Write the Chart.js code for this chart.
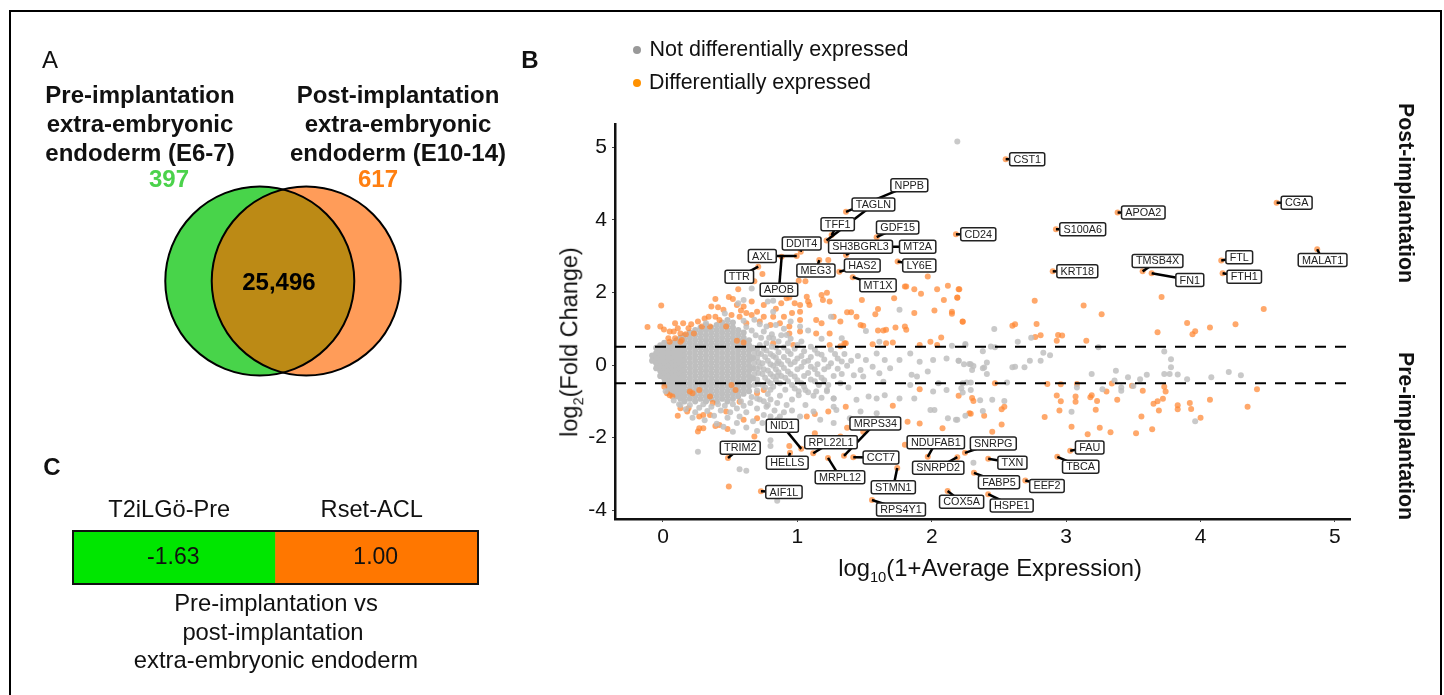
<!DOCTYPE html>
<html>
<head>
<meta charset="utf-8">
<title>Extra-embryonic endoderm</title>
<script src="https://cdn.jsdelivr.net/npm/chart.js@4"></script>
<style>
  html, body { margin: 0; padding: 0; background: #fff; }
  body { width: 1444px; height: 695px; position: relative; overflow: hidden; font-family: "Liberation Sans", Arial, sans-serif; color: #111; }
  #frame { position: absolute; left: 9px; top: 10px; width: 1429px; height: 700px; border: 2px solid #000; border-bottom: 0; }
  canvas { position: absolute; }
  .t { position: absolute; transform: translate(-50%, -50%); white-space: nowrap; line-height: 1; }
  .b { font-weight: bold; }
  .dot { position: absolute; width: 8px; height: 8px; border-radius: 50%; transform: translate(-50%, -50%); }
  sub { font-size: 62%; line-height: 0; }
</style>
</head>
<body>
<div id="frame"></div>
<div style="position:absolute;left:0;top:0;width:1444px;height:695px">
  <canvas id="venn" width="270" height="220" style="left:148px;top:171px"></canvas>
  <canvas id="heat" width="470" height="110" style="left:40px;top:490px"></canvas>
  <canvas id="ma" width="1444" height="695" style="left:0;top:0"></canvas>
</div>

<div class="t" style="left:50px;top:60px;font-size:24px">A</div>
<div class="t b" style="left:140px;top:95px;font-size:24px">Pre-implantation</div>
<div class="t b" style="left:140px;top:124px;font-size:24px">extra-embryonic</div>
<div class="t b" style="left:140px;top:153px;font-size:24px">endoderm (E6-7)</div>
<div class="t b" style="left:398px;top:95px;font-size:24px">Post-implantation</div>
<div class="t b" style="left:398px;top:124px;font-size:24px">extra-embryonic</div>
<div class="t b" style="left:398px;top:153px;font-size:24px">endoderm (E10-14)</div>
<div class="t b" style="left:169px;top:179px;font-size:24px;color:#4bd24b">397</div>
<div class="t b" style="left:378px;top:179px;font-size:24px;color:#ff7f11">617</div>

<div class="t b" style="left:52px;top:467px;font-size:24px">C</div>
<div class="t" style="left:276px;top:603px;font-size:23.8px">Pre-implantation vs</div>
<div class="t" style="left:273px;top:632px;font-size:23.8px">post-implantation</div>
<div class="t" style="left:276px;top:660px;font-size:23.8px">extra-embryonic endoderm</div>

<div class="t b" style="left:530px;top:60px;font-size:24px">B</div>
<div class="dot" style="left:637px;top:50px;background:#999"></div>
<div class="dot" style="left:637px;top:83px;background:#ff9100"></div>
<div class="t" style="left:779px;top:50px;font-size:21.5px">Not differentially expressed</div>
<div class="t" style="left:760px;top:83px;font-size:21.4px">Differentially expressed</div>
<div class="t" style="left:990px;top:568px;font-size:23.8px">log<sub>10</sub>(1+Average Expression)</div>
<div class="t" style="left:570px;top:342px;font-size:23.5px;transform:translate(-50%,-50%) rotate(-90deg)">log<sub>2</sub>(Fold Change)</div>
<div class="t b" style="left:1405px;top:193px;font-size:21.3px;transform:translate(-50%,-50%) rotate(90deg)">Post-implantation</div>
<div class="t b" style="left:1405px;top:436px;font-size:21.3px;transform:translate(-50%,-50%) rotate(90deg)">Pre-implantation</div>

<script>
// panel A
const vennCentreX = [-0.172, 0.172];
const vennCentreY = [0, 0];
const vennShared = '25,496';

// panel C
const heatCategories = ['T2iLGö-Pre', 'Rset-ACL'];
const heatValues = [-1.63, 1.00];

// panel B axes
const xTickValues = [0, 1, 2, 3, 4, 5];
const yTickValues = [-4, -2, 0, 2, 4, 6];
const yTickLabels = ['-4', '-2', '0', '2', '4', '5']; // top tick reads 5 in the figure
const cutoffs = [0.5, -0.5];

// labelled genes
const geneNames = ['NPPB','TAGLN','TFF1','GDF15','SH3BGRL3','MT2A','LY6E','HAS2','MT1X','MEG3','DDIT4','AXL','APOB','TTR','CD24','CST1','APOA2','S100A6','KRT18','TMSB4X','FN1','FTL','FTH1','CGA','MALAT1','NID1','MRPS34','RPL22L1','HELLS','TRIM2','AIF1L','MRPL12','CCT7','STMN1','RPS4Y1','COX5A','NDUFAB1','SNRPD2','SNRPG','TXN','FABP5','EEF2','HSPE1','FAU','TBCA'];
const geneX = [1.362,1.217,1.255,1.59,1.362,1.639,1.746,1.312,1.412,1.163,1.025,0.995,0.883,0.709,2.18,2.55,3.383,2.924,2.9,3.569,3.636,4.154,4.164,4.566,4.868,1.029,1.347,1.118,0.945,0.484,0.729,1.228,1.416,1.743,1.555,2.118,1.97,2.19,2.247,2.42,2.314,2.696,2.42,3.03,2.934];
const geneY = [4.22,3.43,3.58,3.52,3.03,3.26,2.85,2.57,2.42,2.89,3.12,3.0,2.98,2.71,3.6,5.67,4.2,3.74,2.58,2.58,2.53,2.88,2.53,4.47,3.19,-2.31,-2.5,-2.43,-2.42,-2.56,-3.48,-2.56,-2.54,-2.84,-3.72,-3.47,-2.53,-2.54,-2.42,-2.58,-2.97,-3.18,-3.56,-2.36,-2.53];
// where ggrepel put each label box, in data units
const labelX = [1.833,1.566,1.30,1.746,1.47,1.895,1.907,1.483,1.6,1.138,1.032,0.739,0.863,0.568,2.346,2.71,3.574,3.123,3.083,3.68,3.92,4.288,4.325,4.715,4.908,0.888,1.58,1.25,0.925,0.575,0.9,1.317,1.622,1.714,1.771,2.222,2.03,2.048,2.458,2.6,2.5,2.857,2.595,3.175,3.108];
const labelY = [4.95,4.42,3.88,3.79,3.26,3.26,2.74,2.74,2.2,2.6,3.35,3.0,2.07,2.43,3.6,5.67,4.2,3.74,2.58,2.865,2.34,2.97,2.43,4.47,2.89,-1.67,-1.61,-2.13,-2.69,-2.28,-3.5,-3.09,-2.55,-3.37,-3.98,-3.77,-2.13,-2.83,-2.16,-2.69,-3.23,-3.33,-3.87,-2.27,-2.8];

// differentially expressed
const orangePoints = [
  [2.205,2.09],[2.19,1.85],[2.15,1.47],[2.23,1.19],[2.766,1.77],[3.13,1.64],[3.264,1.4],[2.6,1.08],[2.62,1.12],[2.78,1.13],[2.77,0.77],[2.81,0.82],[2.94,0.83],[2.97,0.81],[2.93,0.67],[3.15,0.67],[3.71,1.87],[4.47,1.54],[3.9,1.16],[4.26,1.12],[4.07,1.03],[3.68,0.9],[3.96,0.93],[3.94,0.85],
  [2.47,-0.5],[2.86,-0.52],[2.96,-0.53],[3.08,-0.52],[3.34,-0.51],[3.49,-0.57],[3.73,-0.6],[3.74,-0.73],[2.2,-0.85],[2.3,-0.91],[2.31,-0.99],[2.93,-0.84],[3.07,-0.87],[2.96,-1],[3.07,-1.01],[3.19,-0.83],[3.18,-0.89],[3.23,-0.99],[3.3,-0.73],[3.38,-0.96],[3.57,-0.71],[3.72,-0.93],[3.68,-1],[3.65,-1.07],[3.69,-1.25],[3.83,-1.11],[3.83,-1.22],[3.92,-1.05],[3.93,-1.21],[4.07,-0.96],[4.42,-0.67],[4.35,-1.15],[4,-1.45],[2.54,-1.15],[2.52,-1.22],[2.95,-1.25],[3.22,-1.23],[2.29,-1.34],[2.39,-1.4],[2.84,-1.43],[3.56,-1.42],[2.52,-1.64],[2.45,-1.84],[3.04,-1.7],[3.25,-1.73],[3.16,-1.91],[3.33,-1.85],[3.52,-1.88],[3.64,-1.77],
  [1.36,-1.15],[1.71,-1.12],[1.23,-1.28],[1.13,-1.35],[1.07,-1.42],[1.82,-1.56],[1.91,-1.61],[2.08,-1.74],[1.37,-1.73],[1.49,-1.84],[1.13,-1.88],[1.32,-1.97],[1.91,-0.67],[1.8,-2.2],[2.28,-1.33],[0.49,-3.35],[0.94,-2.23],[0.48,-1.76],[0.27,-1.74],[0.3,-1.74],[0.26,-1.83],[0.39,-1.68],[0.42,-1.65],[0.68,-1.97],
  [0.18,-1.28],[0.11,-1.4],[0.13,-1.19],[0.27,-1.42],[0.3,-1.38],[0.35,-1.38],[0.03,-0.78],[0.05,-0.83],[0.07,-0.87],[0.01,-0.6],[0.2,-0.73],[0.22,-0.78],[0.27,-0.69],[0.35,-0.87],[0.51,-0.55],[0.54,-0.69],[0.7,-0.78],[0.75,-0.69],[0.37,-1.05],[0.6,-1.51],[0.57,-1.01],[0.7,-1.47],[0.47,-1.28],[0.19,-1.19],
  [1.35,0.6],[1.56,0.57],[1.71,0.62],[1.91,0.55],[1.99,0.64],[2.04,0.55],[1.32,0.52],[0.97,0.55],[0.82,0.6],[1.24,0.55],[0.6,0.62],[0.55,0.67],[0.13,0.64],[0.05,0.64],
  [-0.115,1.05],[-0.013,1.64],[-0.02,1.06],[0.007,0.98],[0.09,1.15],[0.15,1.15],[0.08,0.92],[0.13,0.87],[0.05,0.92],[0.11,1.01],[0.19,1.01],[0.23,0.87],[0.09,0.74],[0.04,0.74],[0.14,0.69],
  [0.39,1.82],[0.36,1.61],[0.41,1.59],[0.49,1.87],[0.52,1.82],[0.56,2.09],[0.74,2.51],[0.68,2.31],[0.6,1.61],[0.55,1.65],[0.66,1.75],[0.75,1.65],[0.7,1.47],[0.62,1.43],[0.57,1.33],[0.51,1.38],[0.39,1.33],[0.34,1.33],[0.42,1.24],[0.35,1.06],[0.29,1.06],[0.47,1.06],[0.62,1.15],[0.75,1.33],[0.82,1.33],[0.9,1.33],[0.96,1.43],[1.02,1.47],[1.08,1.75],[1.07,1.88],[1.18,1.93],[1.22,1.99],[1.19,1.79],[1.24,1.75],[1.09,1.65],[1.01,2.32],[1.06,2.31],[0.92,1.84],[0.94,1.86],[1.02,1.65],[0.88,1.7],[0.8,1.1],[0.87,1.15],[0.94,1.06],[1.02,1.24],[1.14,1.24],[1.18,1.15],[1.27,1.33],[1.32,1.2],[1.37,1.45],[1.4,1.45],[1.44,1.33],[1.47,1.1],[1.49,1.08],[1.48,1.79],[1.58,1.4],[1.6,1.54],[1.72,1.84],[1.8,2.16],[1.81,2.16],[1.87,2.09],[1.92,1.96],[1.97,2.44],[2.04,2.09],[2.12,2.18],[2.2,2.09],[2.09,1.79],[2.19,1.86],[1.87,1.43],[2.02,1.5],[2.15,1.41],[2.23,1.2],
  [1.6,0.95],[1.64,0.95],[1.66,0.97],[1.73,1.03],[1.8,1.06],[1.81,0.97],[1.14,0.87],[1.02,0.92],[0.94,0.87],[1.24,0.87],[1.36,0.6],[1.66,0.6],[2.07,0.76],[1.23,2.89],
  [0.17,0.85],[0.21,1.12],[0.26,1.2],[0.31,1.28],[0.45,1.52],[0.58,1.5],[0.66,1.38],[0.72,1.2],[0.84,1.55],[0.98,1.7]
];

// not differentially expressed, scattered part
const greyPoints = [
  [2.19,6.16],[2.465,0.99],[2.64,0.64],[2.74,0.75],[2.25,0.55],[2.15,0.53],[2.44,0.51],[2.47,0.49],[3.24,0.49],
  [2.38,0.38],[2.83,0.34],[2.88,0.27],[2.73,0.12],[2.81,0.12],[2.2,0.12],[2.24,0.02],[2.29,0.02],[2.31,-0.03],[2.3,-0.14],[2.41,0.07],[2.39,-0.07],[2.41,-0.25],[2.6,-0.06],[2.62,-0.05],[2.69,-0.06],[3.19,-0.25],[3.37,-0.16],[3.46,-0.34],[3.55,-0.39],[3.6,-0.27],[3.73,-0.25],[3.77,-0.25],[3.83,-0.26],[3.78,-0.06],[3.78,0.16],[3.73,0.37],[4.21,-0.19],[4.3,-0.28],[4.08,-0.34],[3.9,-0.39],[2.26,-0.48],[2.29,-0.48],[2.56,-0.48],[3.36,-0.43],[3.41,-0.62],[3.41,-0.71],[3.5,-0.58],[3.27,-0.67],[3.08,-0.62],[2.22,-0.64],[2.23,-0.76],[2.29,-0.69],[2.36,-0.97],[2.45,-0.96],[2.54,-0.99],[2.38,-1.27],[2.25,-1.4],[2.19,-1.51],[3.04,-1.29],[3.96,-1.55],[2.31,-2.69],
  [1.59,0.32],[1.65,0.14],[1.51,0.14],[1.56,-0.05],[1.47,-0.14],[1.49,-0.32],[1.61,-0.23],[1.69,-0.09],[1.76,0.14],[1.84,0.32],[1.91,0.09],[1.85,-0.27],[1.89,-0.32],[1.97,-0.18],[2.01,0.14],[2.11,0.18],[2.2,0.12],[2.28,0.03],[2.38,-0.09],[2.05,-0.5],[2.11,-0.69],[2.23,-0.5],[2.01,-0.73],[1.84,-0.55],[1.64,-0.46],[1.53,-0.87],[1.59,-0.92],[1.65,-0.83],[1.76,-0.92],[1.87,-0.92],[1.99,-1.24],[2.02,-1.24],[2.12,-1.47],[2.18,-1.51],[0.57,-2.87],[0.62,-2.91],[0.26,-2.39],[0.85,-3.74],[0.8,-2.23],[0.8,-2.07],[0.52,-1.84],[1.27,-1.6],[1.17,-1.51],[1.12,-1.28],[1.27,-1.15],[1.14,-0.73],[1.22,-0.69],[1.27,-0.92],[1.44,-0.96],[1.47,-1.28],[1.59,-1.33],[1.66,-1.51],[1.51,-1.6],[1.39,-1.47],[1.29,-1.24],[1.01,-0.83],[1.06,-0.69],[0.87,-1.42],[0.99,-1.6],[0.77,-1.15],[0.8,-1.42],[0.92,-1.1],
  [1.76,1.52],[1.68,2.16],[0.66,2.11],[1.51,0.94],[1.61,0.64],[2.25,0.58],[0.82,1.47],[0.78,1.75],[0.82,1.77],[0.6,1.79],[0.56,1.7],[0.46,1.42],[1.25,1.33],[1.02,1.06],[0.77,1.06],[0.32,1.15],[0.92,0.83],[0.82,0.74],[1.33,0.74],
  [0.13,-1.1],[0.17,-1.22],[0.2,-1.1],[0.24,-1.3],[0.27,-1.18],[0.3,-1.08],[0.33,-1.27],[0.36,-1.15],[0.38,-1.4],[0.41,-1.08],[0.43,-1.25],[0.46,-1.12],[0.48,-1.45],[0.5,-1.3],[0.52,-1.08],[0.55,-1.2],[0.57,-1.42],[0.6,-1.12],[0.62,-1.3],[0.65,-1.05],[0.67,-1.55],[0.7,-1.2],[0.72,-0.95],[0.75,-1.38],[0.78,-1.1],[0.22,-1.45],[0.31,-1.52],[0.4,-1.62],[0.45,-1.7],[0.55,-1.6],[0.62,-1.72],[0.7,-1.82],[0.74,-1.6],[0.85,-1.5],[0.83,-1.25],
  [0.7,0.45],[0.7,0.2],[0.7,-0.1],[0.7,-0.4],[0.7,-0.7],[0.73,0.75],[0.73,0.3],[0.74,0.05],[0.74,-0.25],[0.74,-0.55],[0.77,0.6],[0.77,0.4],[0.78,0.12],[0.78,-0.15],[0.78,-0.45],[0.78,-0.8],[0.81,0.85],[0.81,0.5],[0.82,0.25],[0.82,-0.02],[0.82,-0.32],[0.82,-0.6],[0.86,0.65],[0.86,0.35],[0.86,0.1],[0.86,-0.2],[0.87,-0.5],[0.87,-0.85],[0.9,0.48],[0.9,0.22],[0.9,-0.08],[0.91,-0.35],[0.91,-0.68],[0.95,0.72],[0.95,0.3],[0.95,0.02],[0.95,-0.25],[0.96,-0.55],[0.96,-0.95],[1,0.55],[1,0.18],[1,-0.12],[1,-0.42],[1.01,-0.72],[1.05,0.38],[1.05,0.08],[1.05,-0.3],[1.05,-0.6],[1.06,-1.1],[1.1,0.5],[1.1,0.22],[1.1,-0.05],[1.1,-0.4],[1.12,-0.85],[1.15,0.32],[1.15,0.02],[1.15,-0.25],[1.16,-0.55],[1.2,0.15],[1.2,-0.12],[1.2,-0.42],[1.22,-0.72],[1.25,0.42],[1.25,0.05],[1.27,-0.3],[1.27,-0.92],[1.3,0.18],[1.3,-0.1],[1.32,-0.5],[1.35,0.3],[1.37,-0.02],[1.38,-0.62],[1.4,0.12],[1.42,-0.28],[1.45,0.25],
  [0.69,0.82],[0.72,0.55],[0.72,-0.05],[0.75,0.92],[0.76,0.22],[0.76,-0.35],[0.79,0.75],[0.8,-0.68],[0.84,0.48],[0.84,0.2],[0.84,-0.12],[0.84,-0.42],[0.88,0.82],[0.88,0.02],[0.88,-0.3],[0.93,0.6],[0.93,0.38],[0.93,0.12],[0.93,-0.18],[0.93,-0.45],[0.98,0.45],[0.98,0.08],[0.98,-0.32],[0.98,-0.65],[1.03,0.65],[1.03,0.25],[1.03,-0.05],[1.03,-0.5],[1.08,0.12],[1.08,-0.22],[1.08,-0.75],[1.13,0.42],[1.13,-0.12],[1.13,-0.45],[1.18,0.28],[1.18,-0.35],[1.18,-0.9],[1.23,-0.05],[1.23,-0.55],[1.28,0.3],[1.33,0.1],[1.33,-0.25],[0.9,1],[0.84,1.1],[0.95,1.2],[1.08,0.95],[1.18,0.72],[0.72,1.12],[0.66,0.95],[0.62,1.05],[0.68,1.25],[0.6,1.22],[0.75,-1],[0.8,-0.95],[0.85,-1.05],[0.9,-1.3],[0.96,-1.25],[1.02,-1.42],[0.58,-1],[0.66,-0.88],[0.7,-0.92],[0.08,-0.98],[0.12,-1.08],[0.02,-0.72],
  [0.68,0.05],[0.68,-0.25],[0.68,0.33],[0.68,-0.55],[0.71,0.08],[0.71,-0.22],[0.71,0.33],[0.71,-0.52],[0.75,0.45],[0.75,-0.12],[0.76,-0.62],[0.8,0.3],[0.8,0.02],[0.8,-0.25],[0.8,-0.5],[0.85,0.05],[0.85,-0.3]
];

// the solid grey wedge near zero, one x with its y values per row
const greyWedge = [
  [-0.08,[0.26,0.12]],
  [-0.05,[0.47,0.33,0.19,0.05,-0.09]],
  [-0.02,[0.54,0.4,0.26,0.12,-0.02,-0.16,-0.3]],
  [0.01,[0.61,0.47,0.33,0.19,0.05,-0.09,-0.23,-0.37,-0.51]],
  [0.04,[0.54,0.4,0.26,0.12,-0.02,-0.16,-0.3,-0.44,-0.58,-0.72]],
  [0.07,[0.61,0.47,0.33,0.19,0.05,-0.09,-0.23,-0.37,-0.51,-0.65,-0.79]],
  [0.1,[0.68,0.54,0.4,0.26,0.12,-0.02,-0.16,-0.3,-0.44,-0.58,-0.72,-0.86]],
  [0.13,[0.75,0.61,0.47,0.33,0.19,0.05,-0.09,-0.23,-0.37,-0.51,-0.65,-0.79,-0.93]],
  [0.16,[0.82,0.68,0.54,0.4,0.26,0.12,-0.02,-0.16,-0.3,-0.44,-0.58,-0.72,-0.86,-1]],
  [0.2,[0.89,0.75,0.61,0.47,0.33,0.19,0.05,-0.09,-0.23,-0.37,-0.51,-0.65,-0.79,-0.93]],
  [0.24,[0.96,0.82,0.68,0.54,0.4,0.26,0.12,-0.02,-0.16,-0.3,-0.44,-0.58,-0.72,-0.86,-1]],
  [0.28,[1.03,0.89,0.75,0.61,0.47,0.33,0.19,0.05,-0.09,-0.23,-0.37,-0.51,-0.65,-0.79,-0.93]],
  [0.32,[1.1,0.96,0.82,0.68,0.54,0.4,0.26,0.12,-0.02,-0.16,-0.3,-0.44,-0.58,-0.72,-0.86,-1]],
  [0.36,[1.03,0.89,0.75,0.61,0.47,0.33,0.19,0.05,-0.09,-0.23,-0.37,-0.51,-0.65,-0.79,-0.93]],
  [0.4,[1.1,0.96,0.82,0.68,0.54,0.4,0.26,0.12,-0.02,-0.16,-0.3,-0.44,-0.58,-0.72,-0.86,-1]],
  [0.44,[1.17,1.03,0.89,0.75,0.61,0.47,0.33,0.19,0.05,-0.09,-0.23,-0.37,-0.51,-0.65,-0.79,-0.93]],
  [0.48,[1.24,1.1,0.96,0.82,0.68,0.54,0.4,0.26,0.12,-0.02,-0.16,-0.3,-0.44,-0.58,-0.72,-0.86,-1]],
  [0.52,[1.17,1.03,0.89,0.75,0.61,0.47,0.33,0.19,0.05,-0.09,-0.23,-0.37,-0.51,-0.65,-0.79,-0.93]],
  [0.56,[0.96,0.82,0.68,0.54,0.4,0.26,0.12,-0.02,-0.16,-0.3,-0.44,-0.58,-0.72,-0.86]],
  [0.6,[0.89,0.75,0.61,0.47,0.33,0.19,0.05,-0.09,-0.23,-0.37,-0.51,-0.65,-0.79]],
  [0.64,[0.68,0.54,0.4,0.26,0.12,-0.02,-0.16,-0.3,-0.44,-0.58,-0.72]],
  [0.67,[0.47,0.19,-0.09,-0.37]]
];

Chart.defaults.font.family = '"Liberation Sans", Arial, sans-serif';
Chart.defaults.animation = false;
Chart.defaults.responsive = false;
Chart.defaults.plugins.legend.display = false;
Chart.defaults.plugins.tooltip.enabled = false;

// venn: two circles, shared part painted in by clipping
const vennOverlap = {
  id: 'vennOverlap',
  afterDatasetsDraw(chart) {
    const { ctx } = chart;
    const pts = chart.getDatasetMeta(0).data;
    const r = pts[0].options.radius;
    ctx.save();
    ctx.beginPath();
    ctx.arc(pts[0].x, pts[0].y, r, 0, Math.PI * 2);
    ctx.clip();
    ctx.beginPath();
    ctx.arc(pts[1].x, pts[1].y, r, 0, Math.PI * 2);
    ctx.fillStyle = '#bc8a15';
    ctx.fill();
    ctx.restore();
    ctx.lineWidth = 2;
    ctx.strokeStyle = '#000';
    pts.forEach(p => { ctx.beginPath(); ctx.arc(p.x, p.y, r, 0, Math.PI * 2); ctx.stroke(); });
    ctx.fillStyle = '#000';
    ctx.font = 'bold 24px "Liberation Sans"';
    ctx.textAlign = 'center';
    ctx.textBaseline = 'middle';
    ctx.fillText(vennShared, chart.scales.x.getPixelForValue(-0.03), chart.scales.y.getPixelForValue(0) + 2);
  }
};

new Chart(document.getElementById('venn'), {
  type: 'scatter',
  data: { datasets: [{
    data: vennCentreX.map((x, i) => ({ x, y: vennCentreY[i] })),
    pointRadius: 94.5,
    pointBackgroundColor: ['#48d44a', '#ff9c59'],
    pointBorderWidth: 0,
    clip: false
  }] },
  options: {
    layout: { padding: 0, autoPadding: false },
    scales: {
      x: { display: false, min: -1, max: 1 },
      y: { display: false, min: -1, max: 1 }
    }
  },
  plugins: [vennOverlap]
});

// heat strip
const heatDecor = {
  id: 'heatDecor',
  afterDatasetsDraw(chart) {
    const { ctx, chartArea: a } = chart;
    ctx.save();
    ctx.strokeStyle = '#111';
    ctx.lineWidth = 2;
    ctx.strokeRect(a.left, a.top, a.width, a.height);
    ctx.fillStyle = '#111';
    ctx.font = '23px "Liberation Sans"';
    ctx.textAlign = 'center';
    ctx.textBaseline = 'middle';
    chart.getDatasetMeta(0).data.forEach((bar, i) => {
      ctx.fillText(heatValues[i].toFixed(2), bar.x - 1, (a.top + a.bottom) / 2);
    });
    ctx.restore();
  }
};

new Chart(document.getElementById('heat'), {
  type: 'bar',
  data: {
    labels: heatCategories,
    datasets: [{
      data: heatValues.map(() => 1), // every cell fills the strip, colour carries the value
      backgroundColor: heatValues.map(v => v < 0 ? '#00e600' : '#ff7700'),
      barPercentage: 1,
      categoryPercentage: 1,
      borderWidth: 0
    }]
  },
  options: {
    layout: { padding: { left: 33, right: 32, top: 0, bottom: 16 } },
    scales: {
      x: {
        position: 'top',
        grid: { display: false, drawTicks: false },
        border: { display: false },
        ticks: { color: '#111', font: { size: 23.6 }, padding: 6, labelOffset: -5, maxRotation: 0 },
        afterFit: s => { s.height = 41; }
      },
      y: { display: false, min: 0, max: 1 }
    }
  },
  plugins: [heatDecor]
});

// gene label boxes on the MA plot
const geneLabels = {
  id: 'geneLabels',
  afterDatasetsDraw(chart) {
    const { ctx, scales: { x, y } } = chart;
    ctx.save();
    ctx.strokeStyle = '#000';
    ctx.lineWidth = 2.5;
    geneNames.forEach((g, i) => {
      ctx.beginPath();
      ctx.moveTo(x.getPixelForValue(geneX[i]), y.getPixelForValue(geneY[i]));
      ctx.lineTo(x.getPixelForValue(labelX[i]), y.getPixelForValue(labelY[i]));
      ctx.stroke();
    });
    ctx.font = '10.8px "Liberation Sans"';
    ctx.textAlign = 'center';
    ctx.textBaseline = 'middle';
    geneNames.forEach((g, i) => {
      const cx = x.getPixelForValue(labelX[i]);
      const cy = y.getPixelForValue(labelY[i]);
      const w = ctx.measureText(g).width + 7.5;
      ctx.beginPath();
      ctx.roundRect(cx - w / 2, cy - 6.5, w, 13, 2);
      ctx.fillStyle = '#fff';
      ctx.fill();
      ctx.lineWidth = 1.5;
      ctx.strokeStyle = '#222';
      ctx.stroke();
      ctx.fillStyle = '#222';
      ctx.fillText(g, cx, cy + 0.5);
    });
    ctx.restore();
  }
};

const xMin = -0.357, xMax = 5.112, yMin = -4.242, yMax = 6.639;
const greyScatter = greyPoints.map(p => ({ x: p[0], y: p[1] }));
const wedgeData = [];
greyWedge.forEach(col => col[1].forEach(v => wedgeData.push({ x: col[0], y: v })));
const orangeData = orangePoints.map(p => ({ x: p[0], y: p[1] }))
  .concat(geneX.map((v, i) => ({ x: v, y: geneY[i] })));

new Chart(document.getElementById('ma'), {
  type: 'scatter',
  data: { datasets: [
    { data: wedgeData, order: 4, pointRadius: 3.1, pointBorderWidth: 0, pointBackgroundColor: '#bfbfbf' },
    { data: orangeData, order: 3, pointRadius: 3, pointBorderWidth: 0, pointBackgroundColor: 'rgba(255,135,50,0.72)' },
    { data: greyScatter, order: 2, pointRadius: 3, pointBorderWidth: 0, pointBackgroundColor: 'rgba(192,192,192,0.85)' },
    // cutoff lines go over the points
    ...cutoffs.map(c => ({
      type: 'line', order: 1, data: [{ x: xMin, y: c }, { x: xMax, y: c }],
      borderColor: '#000', borderWidth: 2, borderDash: [11, 9], pointRadius: 0
    }))
  ] },
  options: {
    layout: { padding: { left: 615 - 60, right: 94, top: 124, bottom: 695 - 519 - 40 }, autoPadding: false },
    scales: {
      x: {
        type: 'linear', min: xMin, max: xMax,
        grid: { drawOnChartArea: false, tickLength: 3, tickColor: '#444' },
        border: { color: '#111', width: 2.5 },
        afterBuildTicks: s => { s.ticks = xTickValues.map(value => ({ value })); },
        afterFit: s => { s.height = 40; },
        ticks: { color: '#111', font: { size: 21 }, padding: 3, maxRotation: 0 }
      },
      y: {
        type: 'linear', min: yMin, max: yMax,
        grid: { drawOnChartArea: false, tickLength: 3, tickColor: '#444' },
        border: { color: '#111', width: 2.5 },
        afterBuildTicks: s => { s.ticks = yTickValues.map(value => ({ value })); },
        afterFit: s => { s.width = 60; },
        ticks: {
          color: '#111', font: { size: 21 }, padding: 5,
          callback: (v) => yTickLabels[yTickValues.indexOf(v)]
        }
      }
    }
  },
  plugins: [geneLabels]
});
</script>
</body>
</html>
